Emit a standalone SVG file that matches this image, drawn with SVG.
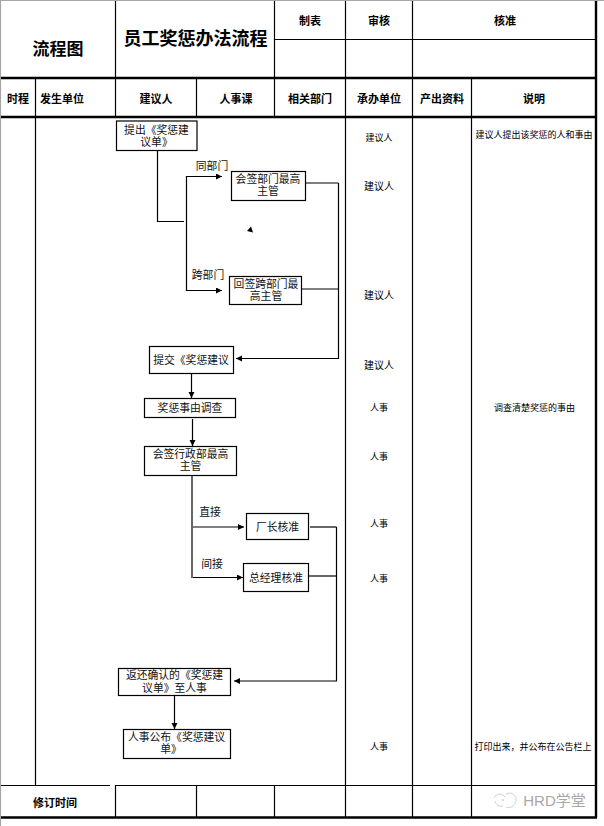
<svg xmlns="http://www.w3.org/2000/svg" width="604" height="826" viewBox="0 0 604 826">
<style>
text{font-family:"Liberation Sans","Noto Sans CJK SC",sans-serif;fill:#000;text-anchor:middle;dominant-baseline:central;transform:translateY(.7px)}
.t{font-size:18px;font-weight:700}
.h{font-size:11px;font-weight:700}
.b{font-size:10.8px;fill:#111}
.s{font-size:9px}
.m{font-size:10px}
.g line{stroke:#000;stroke-width:1.2}
.g .k{stroke-width:2.4}
.n rect{fill:#fff;stroke:#000;stroke-width:1.2}
#connectors path{fill:none;stroke:#000;stroke-width:1.2}
.a{marker-end:url(#ah)}
</style>
<defs>
<marker id="ah" markerUnits="userSpaceOnUse" markerWidth="7" markerHeight="7" refX="6" refY="3" orient="auto"><path d="M0 0L6 3L0 6Z" fill="#000"/></marker>
</defs>
<rect width="604" height="826" fill="#fff"/>
<path d="M0.5 826V0.5H604" fill="none" stroke="#a6a6a6" stroke-width="1.2"/>
<g class="g" id="table">
<line x1="115.5" y1="1" x2="115.5" y2="117"/>
<line x1="274.5" y1="1" x2="274.5" y2="117"/>
<line x1="345.5" y1="1" x2="345.5" y2="817"/>
<line x1="412.5" y1="1" x2="412.5" y2="817"/>
<line x1="274.5" y1="39.5" x2="595" y2="39.5"/>
<line class="k" x1="1" y1="78" x2="595" y2="78"/>
<line class="k" x1="1" y1="117" x2="595" y2="117"/>
<line x1="35.5" y1="78" x2="35.5" y2="785"/>
<line x1="196.5" y1="78" x2="196.5" y2="117"/>
<line x1="471.5" y1="78" x2="471.5" y2="817"/>
<line x1="1" y1="785.5" x2="110" y2="785.5"/>
<line x1="115.5" y1="785.5" x2="596" y2="785.5"/>
<line x1="115.5" y1="785" x2="115.5" y2="817"/>
<line x1="196.5" y1="785" x2="196.5" y2="817"/>
<line x1="274.5" y1="785" x2="274.5" y2="817"/>
<line class="k" x1="1" y1="817.5" x2="597" y2="817.5"/>
<line class="k" x1="596" y1="1" x2="596" y2="818"/>
</g>
<g id="labels">
<text class="t" x="58" y="49" style="font-size:17px">流程图</text>
<text class="t" x="195.500" y="38.500">员工奖惩办法流程</text>
<text class="h" x="310" y="20">制表</text>
<text class="h" x="379" y="20">审核</text>
<text class="h" x="505" y="20">核准</text>
<text class="h" x="18" y="98">时程</text>
<text class="h" x="62" y="98">发生单位</text>
<text class="h" x="156" y="98">建议人</text>
<text class="h" x="236" y="98">人事课</text>
<text class="h" x="310" y="98">相关部门</text>
<text class="h" x="379" y="98">承办单位</text>
<text class="h" x="442" y="98">产出资料</text>
<text class="h" x="534" y="98">说明</text>
<text class="h" x="55" y="802">修订时间</text>
<text class="s" x="379" y="137">建议人</text>
<text class="m" x="379" y="186">建议人</text>
<text class="m" x="379" y="295">建议人</text>
<text class="m" x="379" y="365">建议人</text>
<text class="s" x="379" y="407">人事</text>
<text class="s" x="379" y="456">人事</text>
<text class="s" x="379" y="523">人事</text>
<text class="s" x="379" y="578">人事</text>
<text class="s" x="379" y="746">人事</text>
<text class="s" x="534" y="134.500">建议人提出该奖惩的人和事由</text>
<text class="s" x="534.500" y="407">调查清楚奖惩的事由</text>
<text class="s" x="533" y="746">打印出来，并公布在公告栏上</text>
<text class="b" x="212" y="165.500">同部门</text>
<text class="b" x="208" y="274">跨部门</text>
<text class="b" x="210" y="511">直接</text>
<text class="b" x="212" y="563">间接</text>
</g>
<g id="watermark">
<path d="M494 798c2-5 9-5 11-1M506 794c6-3 11 2 10 7c-1 5-6 8-10 6M495 801c1 4 4 6 8 5" fill="none" stroke="#cfcfcf" stroke-width="1"/>
<circle cx="503" cy="800" r="1" fill="#cfcfcf"/>
<text x="554.500" y="800" style="font-size:15px;fill:#a8a8a8">HRD学堂</text>
</g>
<g id="connectors">
<path d="M157.500 150.500V221.500H184"/>
<path class="a" d="M186.500 221V176.500H222"/>
<path class="a" d="M186.500 221V290.500H222"/>
<path d="M305.500 183H338.500"/>
<path d="M301.500 289H338.500"/>
<path class="a" d="M338.500 183V358.500H236"/>
<path class="a" d="M191.500 374V398"/>
<path class="a" d="M192.500 419V446"/>
<path d="M192 475V578"/>
<path class="a" d="M193 527H244"/>
<path class="a" d="M193 577.500H243"/>
<path d="M310 527H336.500"/>
<path d="M308.500 576H336.500"/>
<path class="a" d="M336.500 527V681H234"/>
<path class="a" d="M174.500 695V729"/>
<path d="M253 232.500L247 231L251 226.500Z" style="fill:#000;stroke:none"/>
</g>
<g id="n1" class="n"><rect x="116.500" y="121" width="80.500" height="29.500"/><text class="b" x="156.500" y="129.300">提出《奖惩建</text><text class="b" x="156.500" y="141.800">议单》</text></g>
<g id="n2" class="n"><rect x="231.500" y="171.500" width="74" height="29"/><text class="b" x="268" y="178">会签部门最高</text><text class="b" x="268" y="190.500">主管</text></g>
<g id="n3" class="n"><rect x="229.500" y="276.500" width="72" height="28"/><text class="b" x="266" y="283">回签跨部门最</text><text class="b" x="266" y="295.500">高主管</text></g>
<g id="n4" class="n"><rect x="149.500" y="346.500" width="84" height="27"/><text class="b" x="191" y="359">提交《奖惩建议</text></g>
<g id="n5" class="n"><rect x="144.500" y="398.500" width="91" height="19"/><text class="b" x="190" y="407.500">奖惩事由调查</text></g>
<g id="n6" class="n"><rect x="144.500" y="446.500" width="92" height="29"/><text class="b" x="190.500" y="453">会签行政部最高</text><text class="b" x="190.500" y="465.500">主管</text></g>
<g id="n7" class="n"><rect x="246.500" y="513.500" width="62" height="26"/><text class="b" x="277.500" y="526">厂长核准</text></g>
<g id="n8" class="n"><rect x="243.500" y="563.500" width="65" height="28"/><text class="b" x="276" y="577.500">总经理核准</text></g>
<g id="n9" class="n"><rect x="118.500" y="668.500" width="112" height="27"/><text class="b" x="174.500" y="674.500">返还确认的《奖惩建</text><text class="b" x="174.500" y="687">议单》至人事</text></g>
<g id="n10" class="n"><rect x="123.500" y="729.500" width="107" height="29"/><text class="b" x="176.500" y="736">人事公布《奖惩建议</text><text class="b" x="171" y="748.500">单》</text></g>
</svg>
